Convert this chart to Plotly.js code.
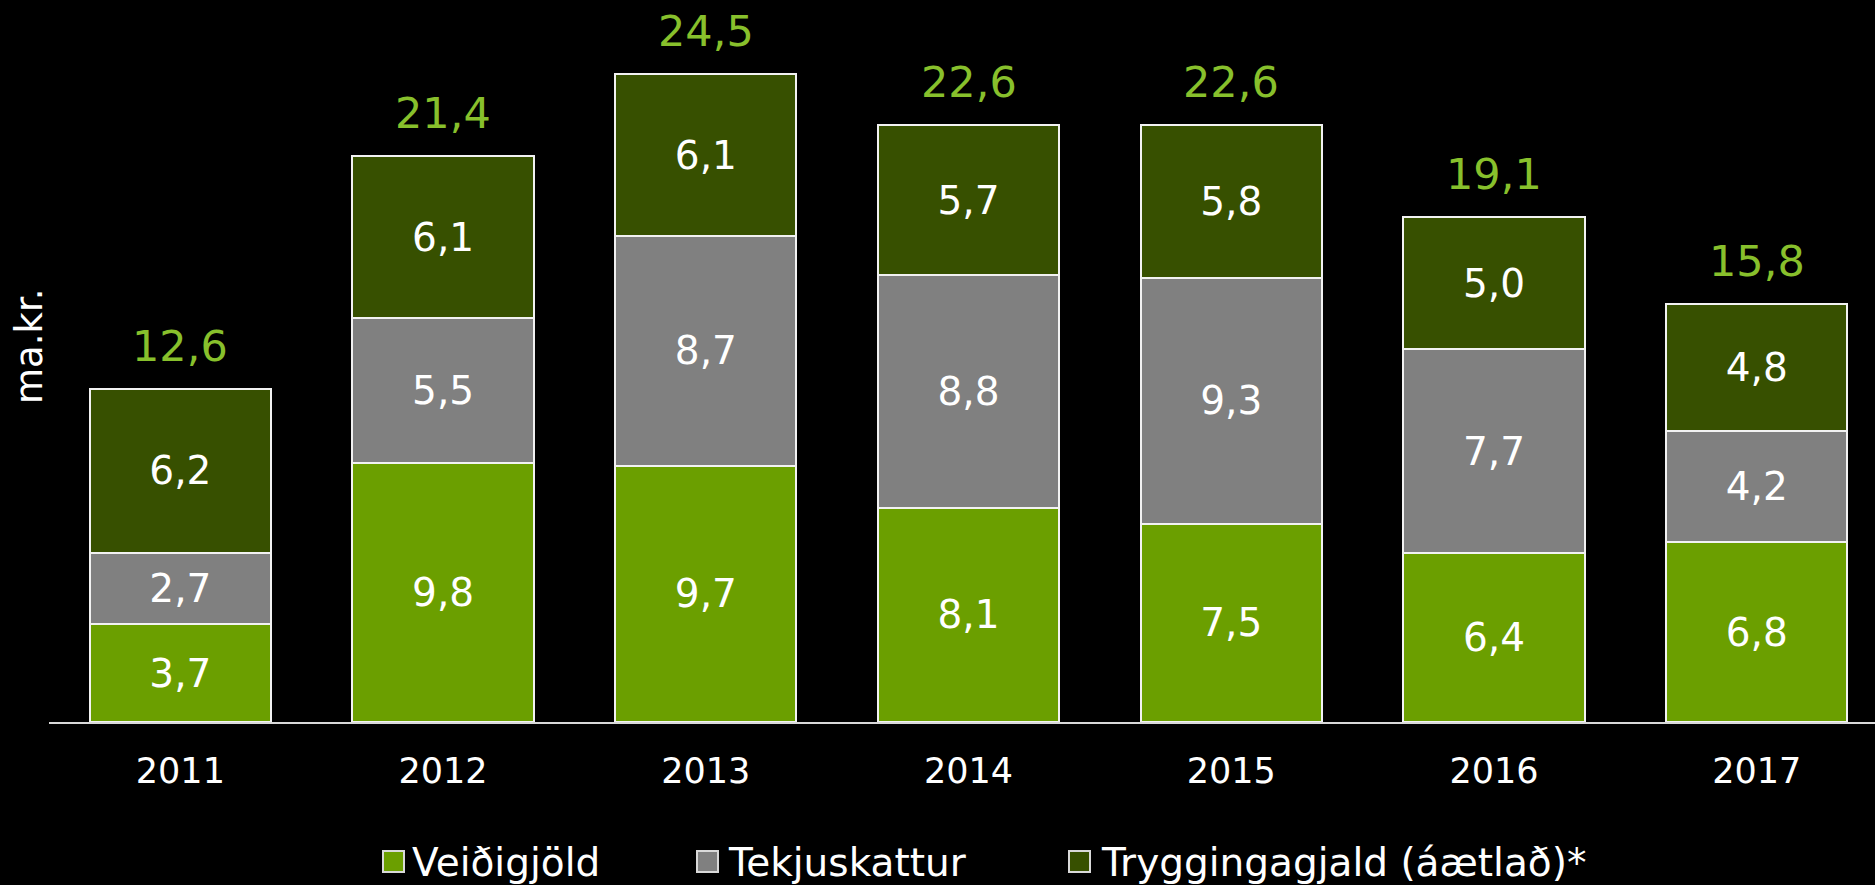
<!DOCTYPE html>
<html>
<head>
<meta charset="utf-8">
<script src="https://cdn.plot.ly/plotly-3.0.1.min.js"></script>
<style>
  html, body { margin: 0; padding: 0; background: #000; }
  #chart { width: 1875px; height: 885px; }
</style>
</head>
<body>
<div id="chart"></div>
<script>
// ---- data ----
const years = ["2011", "2012", "2013", "2014", "2015", "2016", "2017"];
const seriesNames = ["Veiðigjöld", "Tekjuskattur", "Tryggingagjald (áætlað)*"];
const veidigjold = [3.7, 9.8, 9.7, 8.1, 7.5, 6.4, 6.8];
const tekjuskattur = [2.7, 5.5, 8.7, 8.8, 9.3, 7.7, 4.2];
const tryggingagjald = [6.2, 6.1, 6.1, 5.7, 5.8, 5.0, 4.8];
const totals = [12.6, 21.4, 24.5, 22.6, 22.6, 19.1, 15.8];
const yTitle = "ma.kr.";

// ---- style ----
const colors = ["#6b9f00", "#808080", "#375000"];
const FONT = "DejaVu Sans, Verdana, sans-serif";
const seriesValues = [veidigjold, tekjuskattur, tryggingagjald];

const traces = seriesValues.map((vals, i) => ({
  type: "bar",
  name: seriesNames[i],
  x: years,
  y: vals,
  marker: { color: colors[i], line: { color: "#f2f2f2", width: 2 } },
  texttemplate: "%{y:.1f}",
  textposition: "inside",
  insidetextanchor: "middle",
  textangle: 0,
  constraintext: "none",
  insidetextfont: { family: FONT, size: 39, color: "#ffffff" },
  hoverinfo: "x+y+name",
  showlegend: false
}));

// plot area geometry (px)
const W = 1875, H = 885;
const mL = 49, mR = 0, mT = 0, mB = 163;
const plotW = W - mL - mR, plotH = H - mT - mB;
const px2paperX = px => (px - mL) / plotW;
const px2paperY = py => (H - mB - py) / plotH;

// total labels above each stack (x = category index on the category axis)
const annotations = totals.map((t, i) => ({
  x: i, y: t, xref: "x", yref: "y",
  text: t.toFixed(1).replace(".", ","),
  showarrow: false, yanchor: "bottom", yshift: 16,
  font: { family: FONT, size: 43, color: "#88c02c" }
}));

// y-axis title
annotations.push({
  xref: "paper", yref: "paper",
  x: px2paperX(29), y: px2paperY(347),
  xanchor: "center", yanchor: "middle",
  text: yTitle, textangle: -90, showarrow: false,
  font: { family: FONT, size: 37, color: "#ffffff" }
});

// custom legend (large swatches)
const legendSquares = [393.5, 707.5, 1079.5];
const legendTextX = [410, 726, 1099];
const legendCY = 861.5;
const shapes = [];
seriesNames.forEach((nm, i) => {
  shapes.push({
    type: "rect", xref: "paper", yref: "paper",
    x0: px2paperX(legendSquares[i] - 10.5), x1: px2paperX(legendSquares[i] + 10.5),
    y0: px2paperY(legendCY + 10.5), y1: px2paperY(legendCY - 10.5),
    fillcolor: colors[i], line: { color: "#d9d9d9", width: 2 }
  });
  annotations.push({
    xref: "paper", yref: "paper",
    x: px2paperX(legendTextX[i]), y: px2paperY(legendCY + 1),
    xanchor: "left", yanchor: "middle",
    text: nm, showarrow: false,
    font: { family: FONT, size: 39, color: "#ffffff" }
  });
});

const layout = {
  width: W, height: H,
  margin: { l: mL, r: mR, t: mT, b: mB, pad: 0 },
  paper_bgcolor: "#000000",
  plot_bgcolor: "#000000",
  barmode: "stack",
  bargap: 0.31,
  separators: ", ",
  font: { family: FONT, color: "#ffffff" },
  showlegend: false,
  xaxis: {
    type: "category",
    range: [-0.5, 6.45],
    showline: true, linecolor: "#d9d9d9", linewidth: 2,
    ticks: "", showgrid: false, zeroline: false,
    tickfont: { family: FONT, size: 35, color: "#ffffff" },
    ticklabelstandoff: 17,
    automargin: false
  },
  yaxis: {
    range: [0, plotH / 26.43],
    showgrid: false, zeroline: false, showline: false,
    showticklabels: false, ticks: "",
    automargin: false
  },
  annotations: annotations,
  shapes: shapes
};

Plotly.newPlot("chart", traces, layout, { displayModeBar: false, staticPlot: true });
</script>
</body>
</html>
